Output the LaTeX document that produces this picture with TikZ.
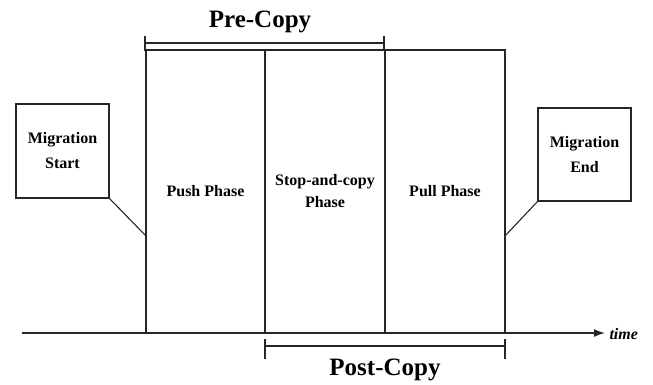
\documentclass[tikz,border=0pt]{standalone}
\usepackage{fontspec}
\setmainfont{Liberation Serif}
\usetikzlibrary{arrows.meta}
\definecolor{ink}{HTML}{262626}
\tikzset{
  phase/.style={draw=ink, line width=1.6pt, inner sep=0pt, align=center,
    minimum width=119.5pt, minimum height=283pt,
    font=\bfseries\fontsize{16}{22}\selectfont},
  eventbox/.style={draw=ink, line width=1.6pt, inner sep=0pt, align=center,
    minimum width=93pt, minimum height=94pt,
    font=\bfseries\fontsize{16}{25}\selectfont},
  link/.style={draw=ink, line width=1.1pt},
  bracket/.style={draw=ink, line width=1.6pt},
  span/.style={font=\bfseries\fontsize{25}{28}\selectfont}
}
\begin{document}
\begin{tikzpicture}[x=1pt,y=-1pt]
\useasboundingbox (0,0) rectangle (653,385);

% the three phases
\node[phase] (push) at (205.5,191.5) {Push Phase};
\node[phase] (stop) at (325,191.5) {Stop-and-copy\\Phase};
\node[phase] (pull) at (445,191.5) {Pull Phase};

% start / end call-outs
\node[eventbox] (mstart) at (62.5,151) {Migration\\Start};
\node[eventbox, minimum height=93pt] (mend) at (584.5,154.5) {Migration\\End};
\coordinate (sjoin) at (146,236);
\coordinate (ejoin) at (505,236);
\draw[link] (mstart.south east) -- (sjoin);
\draw[link] (mend.south west) -- (ejoin);

% time axis
\coordinate (t0) at (22,333);
\coordinate (t1) at (605,333);
\draw[ink, line width=1.6pt, -{Latex[length=11pt,width=8pt]}] (t0) -- (t1);
\node[font=\bfseries\itshape\fontsize{16}{18}\selectfont, anchor=west] (time) at (606,334) {time};

% pre-copy span
\coordinate (pa) at (145,43);
\coordinate (pb) at (384,43);
\draw[bracket] (pa) -- (pb);
\draw[bracket] ([yshift=-8pt]pa) -- ([yshift=7pt]pa);
\draw[bracket] ([yshift=-8pt]pb) -- ([yshift=7pt]pb);
\node[span] (pre) at (260,22) {Pre-Copy};

% post-copy span
\coordinate (qa) at (265,346);
\coordinate (qb) at (505,346);
\draw[bracket] (qa) -- (qb);
\draw[bracket] ([yshift=-13pt]qa) -- ([yshift=7pt]qa);
\draw[bracket] ([yshift=-13pt]qb) -- ([yshift=7pt]qb);
\node[span] (post) at (385,370) {Post-Copy};
\end{tikzpicture}
\end{document}
